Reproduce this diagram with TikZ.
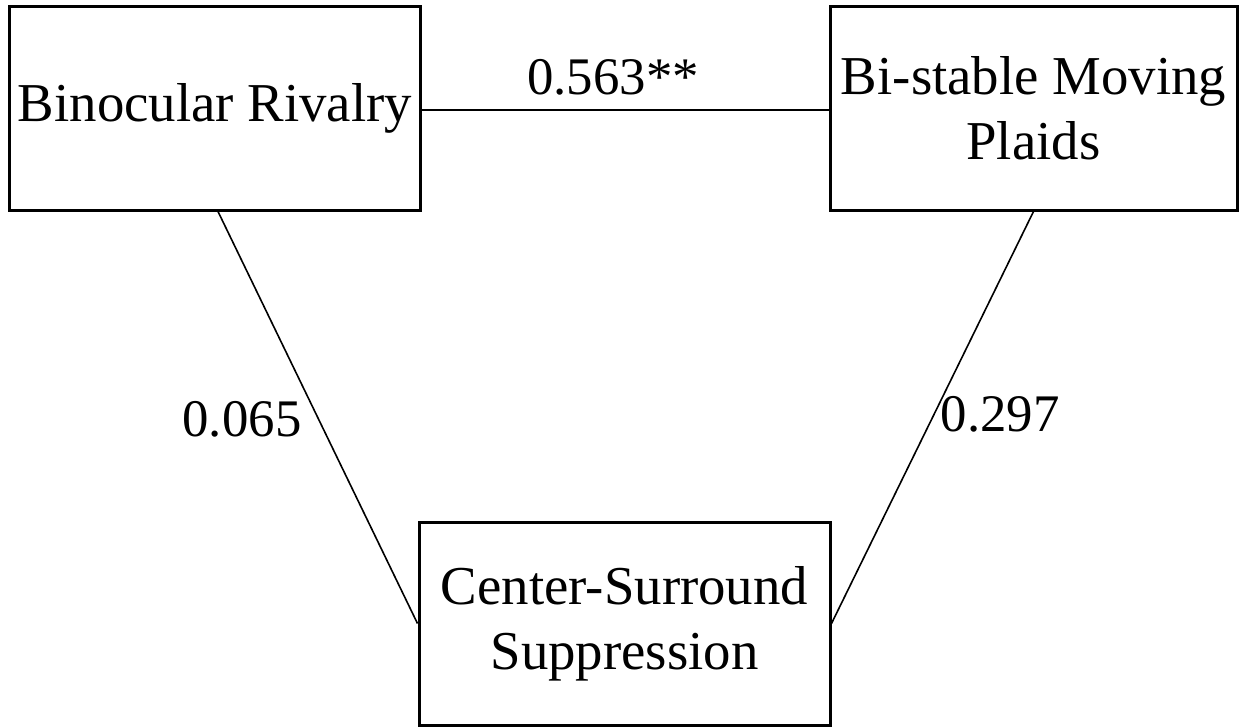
\documentclass[tikz,border=0pt]{standalone}
\usepackage{fontspec}
\setmainfont{Liberation Serif}
\begin{document}
\begin{tikzpicture}[x=1bp,y=-1bp,
  box/.style={draw=black,line width=3bp,inner sep=0pt,minimum width=#1,minimum height=203bp,align=center,font=\fontsize{55}{65}\selectfont},
  link/.style={draw=black,line width=1.6bp},
  coef/.style={anchor=base,inner sep=0pt,font=\fontsize{53}{60}\selectfont}]
\useasboundingbox (0,0) rectangle (1239,727);
\node[box=410bp] (br) at (215,108.5) {Binocular Rivalry};
\node[box=407bp] (bp) at (1033.5,108.5) {Bi-stable Moving\\Plaids};
\node[box=411bp] (cs) at (624.5,623.5) {Center-Surround\\Suppression};
\draw[link] ([yshift=-1.5bp]br.east) -- ([yshift=-1.5bp]bp.west);
\draw[link] ([xshift=3bp]br.south) -- (cs.west);
\draw[link] (bp.south) -- (cs.east);
\node[coef] (l1) at (613,95) {0.563**};
\node[coef] (l2) at (242,436) {0.065};
\node[coef] (l3) at (1000,431) {0.297};
\end{tikzpicture}
\end{document}
